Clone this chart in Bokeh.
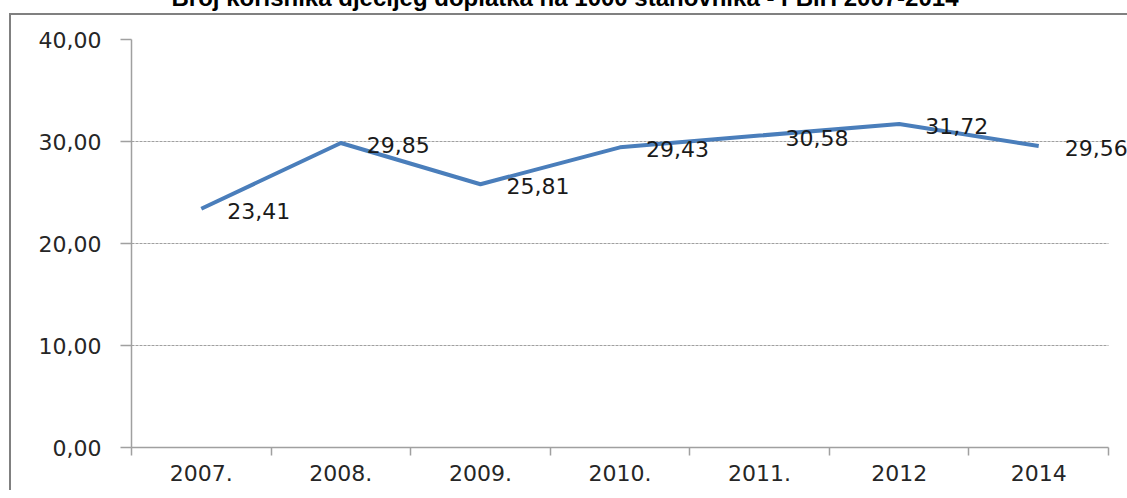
from bokeh.plotting import figure
from bokeh.models import (Range1d, FixedTicker, CustomJSTickFormatter, Title,
                          LabelSet, ColumnDataSource, InlineStyleSheet)
from bokeh.embed import file_html
from bokeh.resources import INLINE
from bokeh.core.properties import value

title_text = "Broj korisnika dječijeg doplatka na 1000 stanovnika - FBiH 2007-2014"
years = ["2007.", "2008.", "2009.", "2010.", "2011.", "2012", "2014"]
values = [23.41, 29.85, 25.81, 29.43, 30.58, 31.72, 29.56]
y_ticks = [0, 10, 20, 30, 40]

x_idx = list(range(len(years)))
label_txt = [f"{v:.2f}".replace(".", ",") for v in values]
src = ColumnDataSource(dict(x=x_idx, y=values, label=label_txt))

SHIFT = 55          # part of the canvas that lies above the window (title is cut off)
W, H = 1127, 490 + SHIFT
CAT_W = 977 / len(years)
x_end = -0.5 + (W - 131) / CAT_W

p = figure(width=W, height=H, output_backend="svg", toolbar_location=None,
           x_range=Range1d(-0.5, x_end), y_range=Range1d(0, 40),
           min_border_left=131, min_border_right=0, min_border_top=39 + SHIFT,
           min_border_bottom=43)
p.margin = (-SHIFT, 0, 0, 0)
p.outline_line_color = None
p.background_fill_color = "white"
p.border_fill_color = "white"

# outer chart frame (left and top edge), drawn as a CSS overlay
FT = 13 + SHIFT
p.stylesheets = [InlineStyleSheet(css=(
    ":host { position: relative; }"
    ":host::before { content: ''; position: absolute; left: 9px; top: %dpx;"
    " width: 2px; height: %dpx; background: #808080; pointer-events: none; z-index: 5; }"
    ":host::after { content: ''; position: absolute; left: 9px; top: %dpx;"
    " width: %dpx; height: 2px; background: #808080; pointer-events: none; z-index: 5; }"
) % (FT, H - FT, FT, W - 9))]

# title
p.title = Title(text=title_text, align="left", offset=40, standoff=58,
                text_font="Liberation Sans", text_font_style="bold",
                text_font_size="24px", text_color="black")

# grid
p.xgrid.visible = False
p.ygrid.ticker = FixedTicker(ticks=y_ticks)
p.ygrid.grid_line_color = "#a0a0a0"
p.ygrid.grid_line_dash = "3 1"
p.ygrid.grid_line_width = 1
p.ygrid.cross_bounds = (-0.5, len(years) - 0.5)

# y axis
ya = p.yaxis[0]
ya.ticker = FixedTicker(ticks=y_ticks)
ya.formatter = CustomJSTickFormatter(code="return tick.toFixed(2).replace('.', ',');")
ya.axis_line_color = "#a0a0a0"
ya.axis_line_width = 1.5
ya.major_tick_line_color = "#a0a0a0"
ya.major_tick_line_width = 1.5
ya.major_tick_out = 11
ya.major_tick_in = 0
ya.minor_tick_line_color = None
ya.major_label_standoff = 19
ya.major_label_text_font = "DejaVu Sans"
ya.major_label_text_font_size = "22px"
ya.major_label_text_color = "#262626"

# x axis
xa = p.xaxis[0]
xa.bounds = (-0.5, len(years) - 0.5)
xa.ticker = FixedTicker(ticks=x_idx, minor_ticks=[i - 0.5 for i in range(len(years) + 1)])
xa.formatter = CustomJSTickFormatter(args=dict(labels=years),
                                     code="const i = Math.round(tick); return labels[i] ?? '';")
xa.axis_line_color = "#a0a0a0"
xa.axis_line_width = 1.5
xa.major_tick_line_color = None
xa.major_tick_out = 0
xa.major_tick_in = 0
xa.minor_tick_line_color = "#a0a0a0"
xa.minor_tick_line_width = 1.5
xa.minor_tick_out = 8
xa.minor_tick_in = 0
xa.major_label_standoff = 9
xa.major_label_text_font = "DejaVu Sans"
xa.major_label_text_font_size = "22px"
xa.major_label_text_color = "#262626"

# series
p.line(x="x", y="y", source=src, line_color="#4A7EBB", line_width=4,
       line_join="round")

labels = LabelSet(x="x", y="y", text="label", source=src, x_offset=26, y_offset=-2,
                  text_font=value("DejaVu Sans"), text_font_size="22px",
                  text_baseline="middle", text_align="left", text_color="#1a1a1a")
p.add_layout(labels)

open("out.html", "w").write(file_html(p, INLINE))
